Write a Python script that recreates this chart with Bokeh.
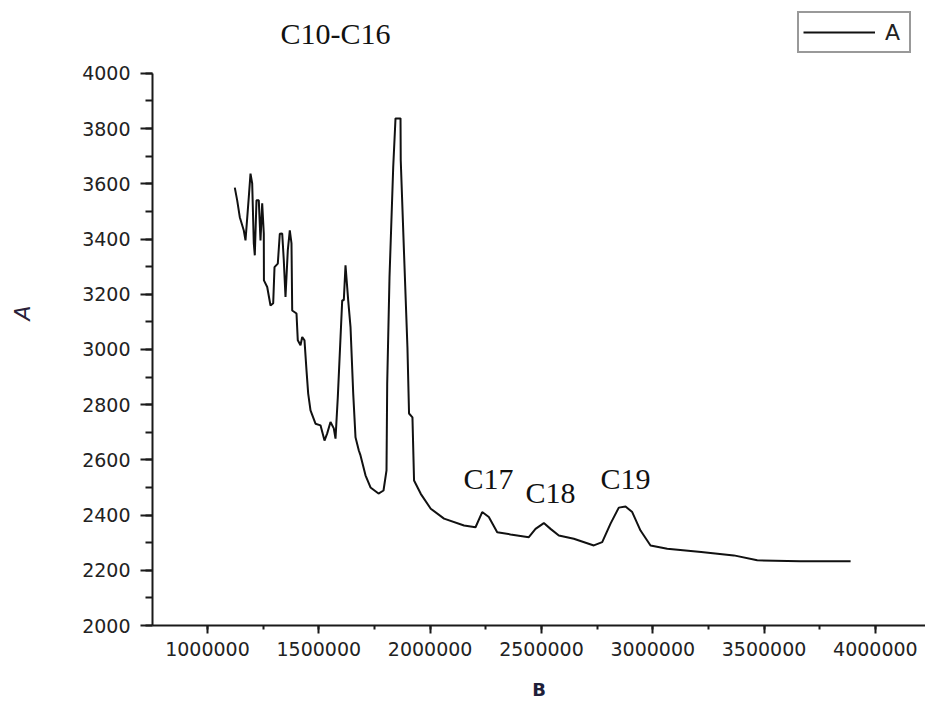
from bokeh.plotting import figure
from bokeh.models import Range1d, Label, Legend, LegendItem, FixedTicker, BasicTickFormatter
from bokeh.embed import file_html
from bokeh.resources import INLINE

# ---- data ----
b_values = [1122600, 1133400, 1145100, 1163100, 1170700, 1185500, 1193200, 1200800,
            1208000, 1212500, 1220100, 1230400, 1238100, 1245700, 1252900, 1253500,
            1268200, 1283000, 1295100, 1301000, 1315800, 1324800, 1335600, 1342700,
            1350400, 1360700, 1369700, 1377300, 1380500, 1399800, 1405600, 1417800,
            1425400, 1435700, 1444700, 1452300, 1462700, 1485100, 1507600, 1525600,
            1537700, 1552500, 1567300, 1575000, 1585300, 1605100, 1612300, 1619900,
            1632000, 1642400, 1654500, 1664800, 1679700, 1687300, 1709700, 1732200,
            1768100, 1790600, 1804100, 1807200, 1817500, 1834200, 1844500, 1867000,
            1868000, 1882800, 1898100, 1905300, 1920600, 1927800, 1957900, 2002800,
            2062500, 2152300, 2203900, 2233900, 2263600, 2301300, 2361100, 2443300,
            2473400, 2510700, 2540800, 2578100, 2645400, 2735300, 2772900, 2810300,
            2847500, 2877600, 2907700, 2945000, 2989900, 3065000, 3217400, 3364200,
            3469200, 3662200, 3888600]
a_values = [3586, 3540, 3479, 3431, 3395, 3552, 3637, 3601,
            3384, 3341, 3540, 3540, 3395, 3529, 3420, 3250,
            3226, 3159, 3167, 3298, 3311, 3419, 3420, 3323,
            3190, 3359, 3431, 3384, 3141, 3130, 3033, 3015,
            3045, 3033, 2924, 2840, 2779, 2731, 2725, 2670,
            2696, 2737, 2714, 2677, 2827, 3178, 3178, 3305,
            3178, 3081, 2841, 2682, 2634, 2616, 2544, 2500,
            2478, 2489, 2562, 2877, 3261, 3661, 3837, 3837,
            3685, 3348, 3007, 2768, 2754, 2525, 2477, 2423,
            2387, 2362, 2356, 2411, 2393, 2338, 2330, 2320,
            2350, 2371, 2350, 2326, 2314, 2290, 2302, 2369,
            2427, 2431, 2411, 2344, 2290, 2278, 2266, 2254,
            2236, 2233, 2233]

x_ticks = [1000000, 1500000, 2000000, 2500000, 3000000, 3500000, 4000000]
y_ticks = [2000, 2200, 2400, 2600, 2800, 3000, 3200, 3400, 3600, 3800, 4000]

peak_labels = ["C10-C16", "C17", "C18", "C19"]
peak_label_x = [1575000, 2262000, 2540800, 2877600]
peak_label_y = [4143, 2534, 2483, 2534]

series_name = "A"
x_label = "B"
y_label = "A"

# ---- figure ----
p = figure(width=925, height=704, output_backend="svg", toolbar_location=None,
           x_range=Range1d(753000, 4225000), y_range=Range1d(2000, 4264),
           min_border_left=152, min_border_top=0, min_border_right=0,
           min_border_bottom=79)
p.background_fill_color = "white"
p.border_fill_color = "white"
p.outline_line_color = None
p.grid.visible = False

r = p.line(b_values, a_values, line_color="#111111", line_width=2)

# axes
ax = p.xaxis[0]
ax.ticker = FixedTicker(ticks=x_ticks, minor_ticks=[750000 + 250000 * i for i in range(15)])
ax.formatter = BasicTickFormatter(use_scientific=False)
ax.axis_label = x_label
ax.axis_line_color = "#1a1a1a"
ax.axis_line_width = 2
ax.major_tick_line_color = "#1a1a1a"
ax.major_tick_line_width = 2
ax.major_tick_in = 0
ax.major_tick_out = 8
ax.minor_tick_line_color = "#1a1a1a"
ax.minor_tick_line_width = 2
ax.minor_tick_in = 0
ax.minor_tick_out = 4
ax.major_label_text_font = "DejaVu Sans"
ax.major_label_text_font_size = "19px"
ax.major_label_text_color = "#222222"
ax.major_label_standoff = 8
ax.axis_label_text_font = "DejaVu Sans"
ax.axis_label_text_font_size = "18px"
ax.axis_label_text_font_style = "bold"
ax.axis_label_text_color = "#1f1f3a"
ax.axis_label_standoff = 20

ay = p.yaxis[0]
ay.ticker = FixedTicker(ticks=y_ticks, minor_ticks=[2000 + 100 * i for i in range(21)])
ay.formatter = BasicTickFormatter(use_scientific=False)
ay.bounds = (2000, 4000)
ay.axis_label = y_label
ay.axis_line_color = "#1a1a1a"
ay.axis_line_width = 2
ay.major_tick_line_color = "#1a1a1a"
ay.major_tick_line_width = 2
ay.major_tick_in = 0
ay.major_tick_out = 12
ay.minor_tick_line_color = "#1a1a1a"
ay.minor_tick_line_width = 2
ay.minor_tick_in = 0
ay.minor_tick_out = 7
ay.major_label_text_font = "DejaVu Sans"
ay.major_label_text_font_size = "19px"
ay.major_label_text_color = "#222222"
ay.major_label_standoff = 10
ay.axis_label_text_font = "DejaVu Sans"
ay.axis_label_text_font_size = "22px"
ay.axis_label_text_color = "#2a1f3a"
ay.axis_label_standoff = 44

# peak annotations
for t, lx, ly in zip(peak_labels, peak_label_x, peak_label_y):
    p.add_layout(Label(x=lx, y=ly, text=t, text_align="center", text_baseline="alphabetic",
                       text_font="Liberation Serif", text_font_size="30px",
                       text_color="#111111"))

# legend
legend = Legend(items=[LegendItem(label=series_name, renderers=[r])],
                location=(645, 572), orientation="vertical",
                glyph_width=72, glyph_height=30, label_height=30,
                label_standoff=10, padding=4, margin=0, spacing=0,
                border_line_color="#333333", border_line_width=2,
                background_fill_color="white", background_fill_alpha=1,
                label_text_font="DejaVu Sans", label_text_font_size="22px",
                label_text_color="#222222")
p.add_layout(legend, "center")

open("out.html", "w").write(file_html(p, INLINE))
